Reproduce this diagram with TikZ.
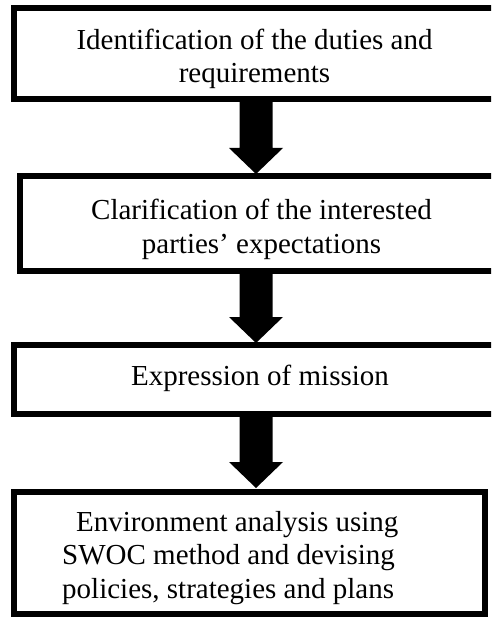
\documentclass[tikz,border=0pt]{standalone}
\usepackage{fontspec}
\setmainfont{Liberation Serif}
\usetikzlibrary{calc}
\begin{document}
\begin{tikzpicture}[x=1pt,y=-1pt,
  box/.style={draw, line width=6pt, rectangle, inner sep=0pt, outer sep=0pt},
  txt/.style={font=\fontsize{29}{33.5}\selectfont, inner sep=0pt, anchor=base},
  bigarrow/.style={fill=black, draw=none}]
\useasboundingbox (0,0) rectangle (491,617);
\clip (0,0) rectangle (491,617);
% boxes
\node[box, minimum width=483pt, minimum height=91.5pt] (b1) at (255.5,53.75) {};
\node[box, minimum width=477pt, minimum height=94.5pt] (b2) at (258.5,223.75) {};
\node[box, minimum width=483pt, minimum height=69.5pt] (b3) at (255.5,379.25) {};
\node[box, minimum width=470.5pt, minimum height=122.5pt] (b4) at (249.25,552.75) {};
% texts (base anchor = baseline of the last line)
\node[txt, align=center] (t1) at (254.5,83) {Identification of the duties and\\requirements};
\node[txt, align=center] (t2) at (261.5,253) {Clarification of the interested\\parties’ expectations};
\node[txt] (t3) at (260,385) {Expression of mission};
\node[txt, align=left, anchor=base west] (t4) at (62,598) {\hspace*{14pt}Environment analysis using\\SWOC method and devising\\policies, strategies and plans};
% arrows
\foreach \s/\t in {102/174, 274/343, 417/488}{
  \coordinate (s) at (256,\s);
  \coordinate (e) at (256,\t);
  \fill[bigarrow] ($(s)+(-16.5,0)$) -- ($(e)+(-16.5,-26)$) -- ($(e)+(-27,-26)$) -- (e)
     -- ($(e)+(27,-26)$) -- ($(e)+(16.5,-26)$) -- ($(s)+(16.5,0)$) -- cycle;
}
\end{tikzpicture}
\end{document}
